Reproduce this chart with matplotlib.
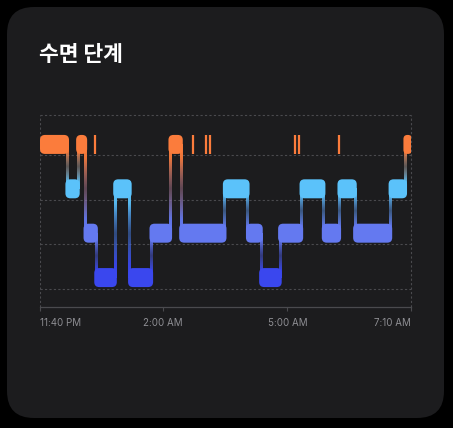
import numpy as np
import matplotlib
matplotlib.use('Agg')
import matplotlib.pyplot as plt
from matplotlib.patches import FancyBboxPatch
from matplotlib.colors import LinearSegmentedColormap, to_rgb

# ── data (minutes after 11:40 PM) ─────────────────────────────────────────────
STAGES      = ['Deep', 'Core', 'REM', 'Awake']          # bottom → top
SEG_STAGE   = ['Awake', 'REM', 'Awake', 'Core', 'Deep', 'REM', 'Deep', 'Core',
               'Awake', 'Core', 'REM', 'Core', 'Deep', 'Core', 'REM', 'Core',
               'REM', 'Core', 'REM', 'Awake']
SEG_START   = [0, 33, 46, 55, 68, 91, 109, 135, 158, 171, 224, 252, 268, 291,
               317, 344, 363, 382, 425, 443]
END_MIN     = 450
BRIEF_WAKE  = [67, 186, 201, 206, 309, 314, 363]       # short awakenings
TICK_MIN    = [0, 149, 300, 450]
TICK_LABELS = ['11:40 PM', '2:00 AM', '5:00 AM', '7:10 AM']

COLORS = {
    'Awake': '#FB7C3C',
    'REM':   '#5BC2FA',
    'Core':  '#6479F0',
    'Deep':  '#3A47EE',
}
GRID_C = '#4A4A4E'
LABEL_C = '#8E8E93'

W, H = 453, 428
fig = plt.figure(figsize=(W / 100, H / 100), dpi=100, facecolor='black')

# card background
bg = fig.add_axes([0, 0, 1, 1])
bg.set_xlim(0, W)
bg.set_ylim(H, 0)
bg.axis('off')
bg.add_patch(FancyBboxPatch((7, 7), 437, 411, boxstyle='round,pad=0,rounding_size=27',
                            facecolor='#1C1C1E', edgecolor='none'))
bg.text(39, 54, '수면 단계', fontsize=15.5, fontweight='bold', color='white',
        va='center', ha='left', family=['Noto Sans CJK KR', 'DejaVu Sans'])

# chart axes (pixel box 40..411 x 115..307)
ax = fig.add_axes([40 / W, 1 - 307 / H, 371 / W, 192 / H])
ax.set_facecolor('none')
ylo, yhi = -0.663, 3.663

min_per_px = END_MIN / 371
unit_per_px = (yhi - ylo) / 192
aspect = unit_per_px / min_per_px
half_h = 9.5 * unit_per_px
lvl = {s: i for i, s in enumerate(STAGES)}

# grid
for i in range(len(STAGES)):
    ax.axhline(i - 11 * unit_per_px, color=GRID_C, lw=0.8, ls=(0, (2, 2)), zorder=0)
ax.axhline(yhi, color=GRID_C, lw=0.8, ls=(0, (2, 2)), zorder=0, clip_on=False)
ax.axvline(0, color=GRID_C, lw=0.8, ls=(0, (2, 2)), zorder=0)
ax.axvline(END_MIN, color=GRID_C, lw=0.8, ls=(0, (2, 2)), zorder=0, clip_on=False)
for side in ['top', 'left', 'right']:
    ax.spines[side].set_visible(False)
ax.spines['bottom'].set_color(GRID_C)
ax.spines['bottom'].set_linewidth(0.9)

seg_end = SEG_START[1:] + [END_MIN]

# gradient connectors between consecutive stages (fade through the middle)
grad = np.linspace(0, 1, 64).reshape(-1, 1)
cw = 1.4 * min_per_px
for k in range(len(SEG_STAGE) - 1):
    a, b = SEG_STAGE[k], SEG_STAGE[k + 1]
    x = seg_end[k]
    lo, hi = (a, b) if lvl[a] < lvl[b] else (b, a)
    mid = tuple(0.5 * np.array(to_rgb(COLORS[lo])) + 0.5 * np.array(to_rgb(COLORS[hi])))
    cmap = LinearSegmentedColormap.from_list(
        'c', [(0, (*to_rgb(COLORS[lo]), 1.0)), (0.15, (*to_rgb(COLORS[lo]), 0.95)),
              (0.5, (*mid, 0.45)),
              (0.85, (*to_rgb(COLORS[hi]), 0.95)), (1, (*to_rgb(COLORS[hi]), 1.0))])
    ax.imshow(grad, cmap=cmap, origin='lower', aspect='auto', interpolation='bilinear',
              extent=[x - cw, x + cw, lvl[lo], lvl[hi]], zorder=2)

# stage blocks
pad = 1.8 * min_per_px
for s, x0, x1 in zip(SEG_STAGE, SEG_START, seg_end):
    x0p = max(x0 - pad, 0)
    x1p = min(x1 + pad, END_MIN + 1 * min_per_px)
    w = x1p - x0p
    r = min(5 * min_per_px, w / 2 * 0.95)
    ax.add_patch(FancyBboxPatch((x0p, lvl[s] - half_h), w, 2 * half_h,
                                boxstyle=f'round,pad=0,rounding_size={r}',
                                mutation_aspect=aspect, facecolor=COLORS[s],
                                edgecolor='none', zorder=3))

# brief awakenings
ax.vlines(BRIEF_WAKE, lvl['Awake'] - half_h, lvl['Awake'] + half_h,
          color=COLORS['Awake'], lw=1.6, zorder=3)

ax.set_xlim(0, END_MIN)
ax.set_ylim(ylo, yhi)
ax.set_yticks([])
ax.set_xticks(TICK_MIN)
ax.set_xticklabels(TICK_LABELS, fontsize=7, color=LABEL_C, family=['Inter', 'DejaVu Sans'])
ax.tick_params(axis='x', length=3, width=0.8, color=GRID_C, pad=5)
labels = ax.get_xticklabels()
labels[0].set_ha('left')
labels[-1].set_ha('right')

fig.savefig('out.png', dpi=100, facecolor='black')
